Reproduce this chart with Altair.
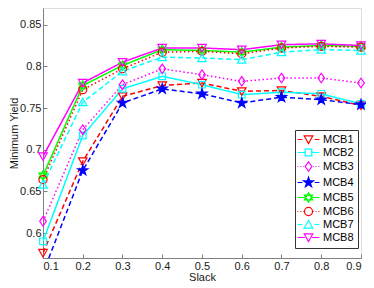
import altair as alt
import pandas as pd

slack = [0.1, 0.2, 0.3, 0.4, 0.5, 0.6, 0.7, 0.8, 0.9]
series_names = ["MCB1", "MCB2", "MCB3", "MCB4", "MCB5", "MCB6", "MCB7", "MCB8"]
mcb1 = [0.576, 0.686, 0.764, 0.777, 0.780, 0.770, 0.771, 0.764, 0.753]
mcb2 = [0.590, 0.717, 0.773, 0.788, 0.778, 0.766, 0.769, 0.767, 0.755]
mcb3 = [0.614, 0.724, 0.778, 0.797, 0.790, 0.782, 0.786, 0.786, 0.780]
mcb4 = [0.552, 0.675, 0.756, 0.773, 0.767, 0.756, 0.763, 0.760, 0.754]
mcb5 = [0.669, 0.777, 0.801, 0.820, 0.819, 0.817, 0.823, 0.825, 0.824]
mcb6 = [0.664, 0.772, 0.797, 0.817, 0.818, 0.815, 0.822, 0.824, 0.823]
mcb7 = [0.658, 0.757, 0.794, 0.811, 0.810, 0.808, 0.817, 0.820, 0.819]
mcb8 = [0.692, 0.780, 0.805, 0.822, 0.822, 0.820, 0.826, 0.827, 0.825]
all_values = [mcb1, mcb2, mcb3, mcb4, mcb5, mcb6, mcb7, mcb8]

colors = ["#ff0000", "#00ffff", "#ff00ff", "#0000ff", "#00ff00", "#ff0000", "#00ffff", "#ff00ff"]
dashes = [[5, 3], [1, 0], [1.5, 2.5], [5, 3], [1, 0], [1.5, 2.5], [5, 3], [1, 0]]
fills = ["transparent", "transparent", "transparent", "#0000ff",
         "transparent", "transparent", "transparent", "transparent"]

tri_down = "M-0.9,-0.75L0.9,-0.75L0,0.85Z"
tri_up = "M-0.9,0.75L0.9,0.75L0,-0.85Z"
square = "M-0.7,-0.7H0.7V0.7H-0.7Z"
diamond = "M0,-1L0.7,0L0,1L-0.7,0Z"
star = ("M0,-1.1L0.25,-0.34L1.05,-0.34L0.4,0.13L0.65,0.89L0,0.42L-0.65,0.89"
        "L-0.4,0.13L-1.05,-0.34L-0.25,-0.34Z")
hexa = "M0,-1L0.866,0.5L-0.866,0.5Z M0,1L0.866,-0.5L-0.866,-0.5Z"
circle = "M0.85,0A0.85,0.85,0,1,1,-0.85,0A0.85,0.85,0,1,1,0.85,0Z"
markers = [tri_down, square, diamond, star, hexa, circle, tri_up, tri_down]

stub_dash = "M-2.3,0H-1.3M1.3,0H2.3"
stub_solid = "M-2.3,0H-0.75M0.75,0H2.3"
stub_dot = "M-2.3,0H-2.1M-1.7,0H-1.5M-1.1,0H-0.95M0.95,0H1.1M1.5,0H1.7M2.1,0H2.3"
stubs = [stub_dash, stub_solid, stub_dot, stub_dash, stub_solid, stub_dot, stub_dash, stub_solid]
legend_shapes = [m + " " + s for m, s in zip(markers, stubs)]

rows = []
for name, vals in zip(series_names, all_values):
    for s, v in zip(slack, vals):
        rows.append({"slack": s, "yield": v, "series": name})
df = pd.DataFrame(rows)

FONT = "Liberation Sans"
AX = "#808080"
TXT = "#1a1a1a"

x_ticks = slack
y_ticks = [0.6, 0.65, 0.7, 0.75, 0.8, 0.85]

xscale = alt.Scale(domain=[0.1, 0.9], nice=False, zero=False)
yscale = alt.Scale(domain=[0.57, 0.87], nice=False, zero=False)

x_main = alt.X("slack:Q", scale=xscale, axis=alt.Axis(
    title="Slack", values=x_ticks, format=".1f", ticks=False, orient="bottom",
    domainColor=AX, labelPadding=2, titlePadding=0, grid=False,
    titleFontWeight="normal", titleFont=FONT, titleFontSize=11, titleColor=TXT,
    labelFont=FONT, labelFontSize=11, labelColor=TXT))
y_main = alt.Y("yield:Q", scale=yscale, axis=alt.Axis(
    title="Minimum Yield", values=y_ticks, format=".2~f", ticks=False, orient="left",
    domainColor=AX, labelPadding=2, titlePadding=0, grid=False,
    titleFontWeight="normal", titleFont=FONT, titleFontSize=11, titleColor=TXT,
    labelFont=FONT, labelFontSize=11, labelColor=TXT))

x_tick = alt.X("slack:Q", scale=xscale, axis=alt.Axis(
    title=None, values=x_ticks, labels=False, domain=False, ticks=True, tickSize=4,
    offset=-4, orient="bottom", tickColor=AX, grid=False))
y_tick = alt.Y("yield:Q", scale=yscale, axis=alt.Axis(
    title=None, values=y_ticks, labels=False, domain=False, ticks=True, tickSize=4,
    offset=-4, orient="left", tickColor=AX, grid=False))

lines = alt.Chart(df).mark_line(strokeWidth=1.5, clip=True).encode(
    x=x_main, y=y_main,
    color=alt.Color("series:N", scale=alt.Scale(domain=series_names, range=colors), legend=None),
    strokeDash=alt.StrokeDash("series:N", scale=alt.Scale(domain=series_names, range=dashes), legend=None),
)

points = alt.Chart(df).transform_filter(alt.datum["yield"] >= 0.57).mark_point(
    filled=False, strokeWidth=1.2, size=90, opacity=1).encode(
    x=x_tick, y=y_tick,
    stroke=alt.Stroke("series:N", scale=alt.Scale(domain=series_names, range=colors), legend=None),
    fill=alt.Fill("series:N", scale=alt.Scale(domain=series_names, range=fills), legend=None),
    shape=alt.Shape("series:N", scale=alt.Scale(domain=series_names, range=markers), legend=None),
)

leg = alt.Legend(orient="none", legendX=252, legendY=122, title=None,
                 strokeColor="#333333", fillColor="white", padding=4,
                 labelFontSize=11, labelFont=FONT, labelColor="black",
                 symbolSize=90, symbolStrokeWidth=1.2, rowPadding=0,
                 symbolOffset=4, labelOffset=9, cornerRadius=0)

legend_layer = alt.Chart(df).transform_filter("false").mark_point(
    filled=False, strokeWidth=1.2, size=90, opacity=1).encode(
    stroke=alt.Stroke("series:N", scale=alt.Scale(domain=series_names, range=colors), legend=leg),
    fill=alt.Fill("series:N", scale=alt.Scale(domain=series_names, range=fills), legend=leg),
    shape=alt.Shape("series:N", scale=alt.Scale(domain=series_names, range=legend_shapes), legend=leg),
)

chart = alt.layer(lines, points, legend_layer).resolve_scale(
    shape="independent", stroke="independent", fill="independent", color="independent",
    strokeDash="independent",
).resolve_axis(x="independent", y="independent").properties(
    width=318, height=250, autosize="none",
    padding={"left": 35, "top": 0, "right": 5, "bottom": 26},
).configure_view(stroke=None).configure_axis(
    labelFont=FONT, titleFont=FONT, labelFontSize=11, titleFontSize=11,
    labelColor=TXT, titleColor=TXT, titleFontWeight="normal",
).configure(background="white")

chart.save("out.html", embed_options={"renderer": "svg", "actions": False})
